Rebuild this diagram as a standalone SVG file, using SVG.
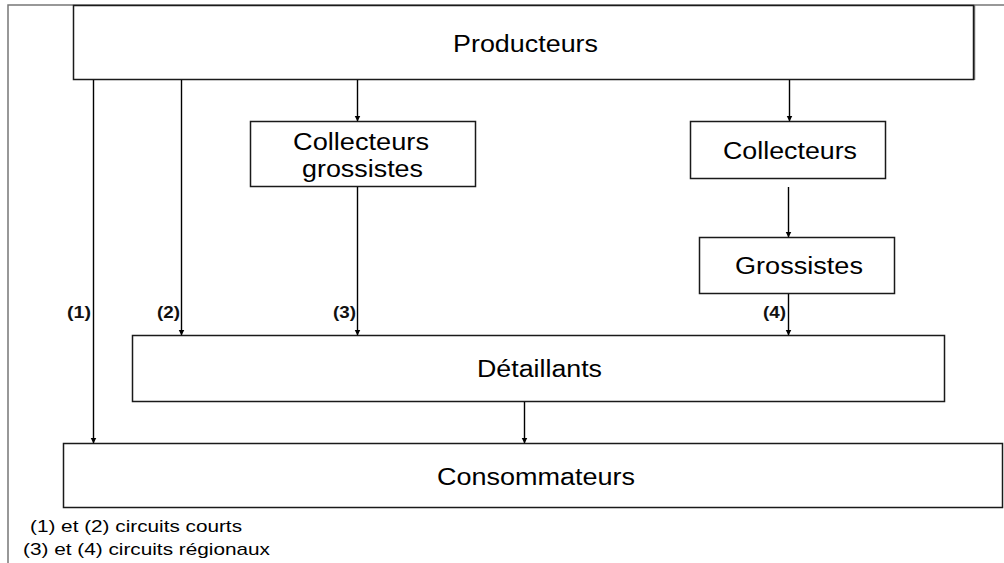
<svg xmlns="http://www.w3.org/2000/svg" width="1004" height="563" viewBox="0 0 1004 563">
<style>
.box{fill:#fff;stroke:#1a1a1a;stroke-width:1.5}
.t{font-family:"Liberation Sans",Arial,sans-serif;font-size:23px;fill:#000}
.s{font-family:"Liberation Sans",Arial,sans-serif;font-size:17px;fill:#000}
.b{font-family:"Liberation Sans",Arial,sans-serif;font-size:17px;font-weight:bold;fill:#111}
.c{stroke:#000;stroke-width:1.4;fill:none;marker-end:url(#ah)}
.frame{stroke:#777;stroke-width:1.5;fill:none}
</style>
<defs>
<marker id="ah" markerWidth="6" markerHeight="7" refX="5.5" refY="3.5" orient="auto" markerUnits="userSpaceOnUse">
<path d="M0,0.5 L6,3.5 L0,6.5 Z" fill="#000"/>
</marker>
</defs>
<rect width="1004" height="563" fill="#fff"/>
<g id="frame">
<path class="frame" d="M8,563 V5 H1004"/>
<path class="frame" d="M974.5,5 V80"/>
</g>
<g id="producteurs">
<rect class="box" x="73.5" y="5.5" width="900" height="74"/>
<text class="t" x="453" y="52" textLength="145" lengthAdjust="spacingAndGlyphs">Producteurs</text>
</g>
<g id="collecteurs-grossistes">
<rect class="box" x="250.5" y="121.5" width="225" height="65"/>
<text class="t" x="293" y="150" textLength="136" lengthAdjust="spacingAndGlyphs">Collecteurs</text>
<text class="t" x="302" y="177" textLength="121" lengthAdjust="spacingAndGlyphs">grossistes</text>
</g>
<g id="collecteurs">
<rect class="box" x="690.5" y="121.5" width="195" height="57"/>
<text class="t" x="723" y="159" textLength="134" lengthAdjust="spacingAndGlyphs">Collecteurs</text>
</g>
<g id="grossistes">
<rect class="box" x="699.5" y="237.5" width="195" height="56"/>
<text class="t" x="735" y="274" textLength="128" lengthAdjust="spacingAndGlyphs">Grossistes</text>
</g>
<g id="detaillants">
<rect class="box" x="132.5" y="335.5" width="812" height="66"/>
<text class="t" x="477" y="377" textLength="125" lengthAdjust="spacingAndGlyphs">Détaillants</text>
</g>
<g id="consommateurs">
<rect class="box" x="63.5" y="443.5" width="939" height="64"/>
<text class="t" x="437" y="485" textLength="198" lengthAdjust="spacingAndGlyphs">Consommateurs</text>
</g>
<g id="connectors">
<line class="c" x1="93.5" y1="80" x2="93.5" y2="443"/>
<line class="c" x1="181.5" y1="80" x2="181.5" y2="335"/>
<line class="c" x1="357.5" y1="80" x2="357.5" y2="121"/>
<line class="c" x1="789.5" y1="80" x2="789.5" y2="121"/>
<line class="c" x1="357.5" y1="187" x2="357.5" y2="335"/>
<line class="c" x1="788.5" y1="187" x2="788.5" y2="237"/>
<line class="c" x1="788.5" y1="294" x2="788.5" y2="335"/>
<line class="c" x1="524.5" y1="402" x2="524.5" y2="443"/>
</g>
<g id="labels">
<text class="b" x="67" y="318" textLength="24" lengthAdjust="spacingAndGlyphs">(1)</text>
<text class="b" x="157" y="318" textLength="23" lengthAdjust="spacingAndGlyphs">(2)</text>
<text class="b" x="333" y="318" textLength="23" lengthAdjust="spacingAndGlyphs">(3)</text>
<text class="b" x="763" y="318" textLength="23" lengthAdjust="spacingAndGlyphs">(4)</text>
</g>
<g id="legend">
<text class="s" x="30" y="532" textLength="212" lengthAdjust="spacingAndGlyphs">(1) et (2) circuits courts</text>
<text class="s" x="23" y="555" textLength="247" lengthAdjust="spacingAndGlyphs">(3) et (4) circuits régionaux</text>
</g>
</svg>
